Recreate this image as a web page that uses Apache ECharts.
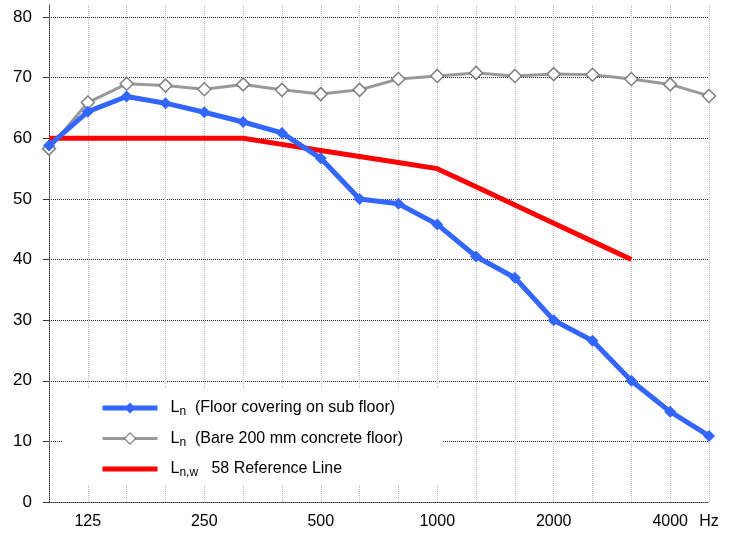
<!DOCTYPE html>
<html><head><meta charset="utf-8">
<script src="https://cdn.jsdelivr.net/npm/echarts@6/dist/echarts.min.js"></script>
<style>html,body{margin:0;padding:0;background:#fff}#c{width:736px;height:538px}</style>
</head><body><div id="c"></div>
<script>
const categories = ['100','125','160','200','250','315','400','500','630','800','1000','1250','1600','2000','2500','3150','4000','5000'];
const xTickLabels = ['', '125', '', '', '250', '', '', '500', '', '', '1000', '', '', '2000', '', '', '4000', 'Hz'];
const yTicks = [0,10,20,30,40,50,60,70,80];
const floorCovering = [58.8,64.4,66.9,65.8,64.3,62.7,60.9,56.7,50.0,49.2,45.8,40.5,37.0,30.0,26.6,20.0,14.9,10.9];
const bareConcrete = [58.3,65.9,69.0,68.7,68.1,68.9,68.0,67.3,68.0,69.8,70.3,70.8,70.3,70.6,70.5,69.8,68.9,67.0];
const referenceLine = [60,60,60,60,60,60,59,58,57,56,55,52,49,46,43,40,null,null];
const seriesNames = ['floor', 'bare', 'ref'];
const legendTexts = {
  floor: '{l|L}{s|n}{t|  (Floor covering on sub floor)}',
  bare: '{l|L}{s|n}{t|  (Bare 200 mm concrete floor)}',
  ref: '{l|L}{s|n,w}{t|   58 Reference Line}'
};

const FONT = '"Liberation Sans", Arial, sans-serif';
const chart = echarts.init(document.getElementById('c'), null, {renderer: 'canvas'});
chart.setOption({
  animation: false,
  backgroundColor: '#fff',
  grid: {left: 49, right: 27, top: 5, bottom: 36, containLabel: false},
  legend: {
    orient: 'vertical',
    left: 63, top: 388,
    padding: [12, 39, 5, 37],
    backgroundColor: '#fff',
    itemWidth: 55, itemHeight: 14, itemGap: 12.5,
    data: [
      {name: 'floor', lineStyle: {width: 5, color: '#3366ff'}, itemStyle: {color: '#3366ff'}},
      {name: 'bare', lineStyle: {width: 3, color: '#999'}, itemStyle: {color: '#fff', borderColor: '#808080', borderWidth: 1.2}},
      {name: 'ref', lineStyle: {width: 5, color: '#ff0000'}, itemStyle: {color: 'transparent', borderWidth: 0, opacity: 0}}
    ],
    formatter: n => legendTexts[n],
    textStyle: {
      fontFamily: FONT, fontSize: 16, color: '#000',
      rich: {
        l: {fontFamily: FONT, fontSize: 16, lineHeight: 20, color: '#000', padding: [0, 0, 0, 8]},
        s: {fontFamily: FONT, fontSize: 12, lineHeight: 20, color: '#000', verticalAlign: 'bottom', padding: [6, 0, 0, 0]},
        t: {fontFamily: FONT, fontSize: 16, lineHeight: 20, color: '#000'}
      }
    }
  },
  xAxis: {
    type: 'category',
    data: categories,
    boundaryGap: false,
    axisLine: {show: true, lineStyle: {color: '#333', type: 'dotted', width: 1}},
    axisTick: {show: false},
    axisLabel: {
      interval: 0, margin: 12,
      fontFamily: FONT, fontSize: 16, color: '#000',
      formatter: (v, i) => xTickLabels[i]
    },
    splitLine: {show: true, interval: 0, lineStyle: {color: '#bbb', type: 'dotted', width: 1}}
  },
  yAxis: {
    type: 'value',
    min: 0, max: 82, interval: 10,
    axisLine: {show: true, lineStyle: {color: '#333', type: 'dotted', width: 1}},
    axisTick: {show: true, length: 6, lineStyle: {color: '#333'}, customValues: yTicks},
    axisLabel: {margin: 17, fontFamily: FONT, fontSize: 17, color: '#000', customValues: yTicks},
    splitLine: {show: true, lineStyle: {color: '#222', type: 'dotted', width: 1}}
  },
  series: [
    {
      name: 'ref', type: 'line', data: referenceLine,
      symbol: 'none', lineStyle: {color: '#ff0000', width: 5}, itemStyle: {color: '#ff0000'}, z: 3
    },
    {
      name: 'bare', type: 'line', data: bareConcrete,
      symbol: 'diamond', symbolSize: 13, showAllSymbol: true,
      lineStyle: {color: '#999', width: 3},
      itemStyle: {color: '#fff', borderColor: '#808080', borderWidth: 1.5}, z: 4
    },
    {
      name: 'floor', type: 'line', data: floorCovering,
      symbol: 'diamond', symbolSize: 12, showAllSymbol: true,
      lineStyle: {color: '#3366ff', width: 5},
      itemStyle: {color: '#3366ff'}, z: 5
    }
  ]
});
</script></body></html>
